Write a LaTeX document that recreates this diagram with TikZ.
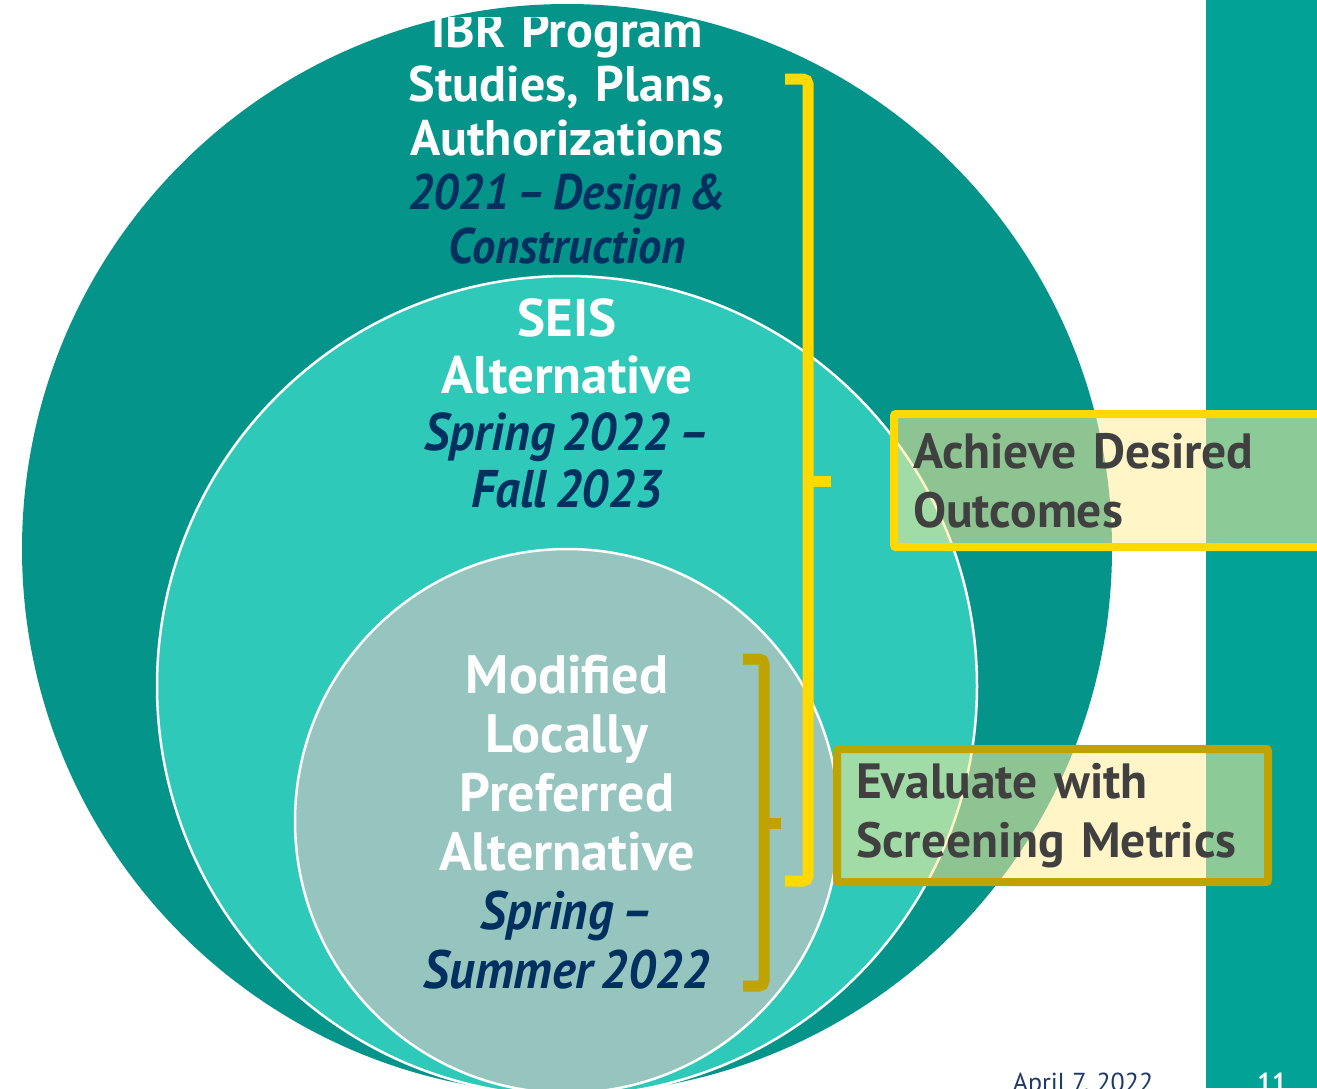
\documentclass[tikz,border=0pt]{standalone}
\usepackage{fontspec}
\setmainfont{PT Sans}[BoldItalicFeatures={FakeStretch=0.93}]
\usetikzlibrary{positioning}

\definecolor{outerTeal}{HTML}{04948A}
\definecolor{middleTeal}{HTML}{2FC9B9}
\definecolor{innerTeal}{HTML}{96C4BE}
\definecolor{barTeal}{HTML}{02A396}
\definecolor{navyText}{HTML}{00305F}
\definecolor{grayText}{HTML}{404040}
\definecolor{braceYellow}{HTML}{FFD900}
\definecolor{braceOlive}{HTML}{BFA300}
\definecolor{boxFill}{HTML}{FFEC99}
\definecolor{dateText}{HTML}{1F3A66}

\newcommand{\dateLine}[1]{{\itshape\color{navyText}\spaceskip=0.15em\relax #1}}

\begin{document}
\begin{tikzpicture}[x=1pt,y=-1pt,%%
  circleStyle/.style={draw=white,line width=2.5pt},%%
  titleStyle/.style={anchor=base,inner sep=0pt,text width=460pt,align=center,text=white},%%
  braceStyle/.style={line width=11pt,rounded corners=5pt},%%
  boxStyle/.style={anchor=north west,outer sep=0pt,line width=8pt,rounded corners=2pt,%%
    fill=boxFill,fill opacity=0.55,text opacity=1,text=grayText,align=left,%%
    inner xsep=19pt,inner ysep=0pt,font=\bfseries\fontsize{49.5}{59}\selectfont}%%
]
%%
\useasboundingbox (0,0) rectangle (1317,1088);
%%
\coordinate (outerC) at (567,549);
\coordinate (middleC) at (567,686);
\coordinate (innerC) at (567,821);
%%
%% The three nested circles.
\fill[outerTeal] (outerC) circle (545);
\fill[middleTeal,circleStyle] (middleC) circle (410);
\fill[innerTeal,circleStyle] (innerC) circle (272);
%%
%% The bar on the right.
\fill[barTeal] (1206,0) rectangle (1317,1088);
%%
%% Label the outer circle.
\begin{scope}
\clip (0,17) rectangle (1317,1088);
\node[titleStyle,font=\bfseries\fontsize{50}{54}\selectfont] (outerTitle) at (567,47)
  {IBR Program\\Studies, Plans,\\Authorizations\\\dateLine{2021 – Design \&\\Construction}};
\end{scope}
%% Label the middle circle.
\node[titleStyle,font=\bfseries\fontsize{53}{57}\selectfont] (middleTitle) at (567,336)
  {SEIS\\Alternative\\\dateLine{Spring 2022 –\\Fall 2023}};
%% Label the inner circle.
\node[titleStyle,font=\bfseries\fontsize{54}{59}\selectfont] (innerTitle) at (567,693)
  {Modified\\Locally\\Preferred\\Alternative\\\dateLine{Spring –\\Summer 2022}};
%%
%% The two braces.
\draw[braceStyle,braceYellow] (785,79) -- (808,79) -- (808,881) -- (785,881);
\draw[braceStyle,braceYellow,rounded corners=0pt] (808,481) -- (831,481);
\draw[braceStyle,braceOlive] (743,659) -- (764,659) -- (764,986) -- (743,986);
\draw[braceStyle,braceOlive,rounded corners=0pt] (764,823) -- (781,823);
%%
%% The two boxes.
\node[boxStyle,draw=braceYellow,text width=402pt,minimum height=133pt] (achieve) at (894,414)
  {Achieve Desired\\Outcomes};
\node[boxStyle,draw=braceOlive,text width=393pt,minimum height=133pt] (evaluate) at (837,749)
  {Evaluate with\\Screening Metrics};
%%
%% The footer.
\node[anchor=base,inner sep=0pt,text=dateText,font=\fontsize{26}{28}\selectfont] (date) at (1083,1091) {April 7, 2022};
\node[anchor=base,inner sep=0pt,text=white,font=\bfseries\fontsize{26}{28}\selectfont] (page) at (1272,1091) {11};
\end{tikzpicture}
\end{document}
